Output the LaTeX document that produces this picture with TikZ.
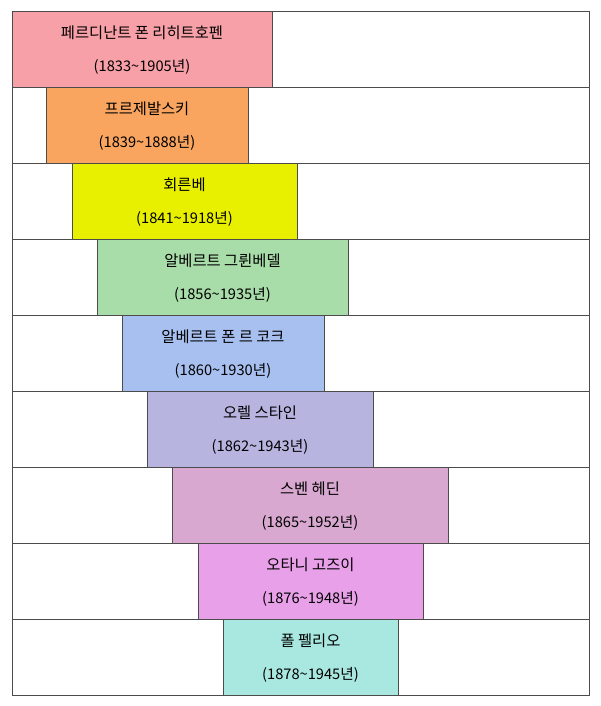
\documentclass[tikz,border=0pt]{standalone}
\usepackage{fontspec}
\setmainfont{Noto Sans CJK KR}
\begin{document}
\begin{tikzpicture}[x=0.75pt,y=-0.75pt,
  rowbox/.style={draw=black!70,line width=0.6pt},
  colbox/.style={draw=black!70,line width=0.6pt},
  nm/.style={font=\fontsize{11.5}{13}\selectfont,anchor=center},
  yr/.style={font=\fontsize{11}{13}\selectfont,anchor=center}]
\useasboundingbox[fill=white] (0,0) rectangle (600,706);
\definecolor{c1}{HTML}{F8A0A8}
\definecolor{c2}{HTML}{F9A560}
\definecolor{c3}{HTML}{E8F000}
\definecolor{c4}{HTML}{A8DCA8}
\definecolor{c5}{HTML}{A8C0F0}
\definecolor{c6}{HTML}{B8B4E0}
\definecolor{c7}{HTML}{D8A8D0}
\definecolor{c8}{HTML}{E8A0E8}
\definecolor{c9}{HTML}{A8E8E0}
\foreach \i/\xa/\xb/\c/\n/\y in {
 0/12/272/c1/페르디난트 폰 리히트호펜/(1833\textasciitilde1905년),
 1/46/248/c2/프르제발스키/(1839\textasciitilde1888년),
 2/72/297/c3/회른베/(1841\textasciitilde1918년),
 3/97/348/c4/알베르트 그륀베델/(1856\textasciitilde1935년),
 4/122/324/c5/알베르트 폰 르 코크/(1860\textasciitilde1930년),
 5/147/373/c6/오렐 스타인/(1862\textasciitilde1943년),
 6/172/448/c7/스벤 헤딘/(1865\textasciitilde1952년),
 7/198/423/c8/오타니 고즈이/(1876\textasciitilde1948년),
 8/223/398/c9/폴 펠리오/(1878\textasciitilde1945년)}{
  \pgfmathsetmacro\top{11+76*\i}
  \pgfmathsetmacro\bot{\top+76}
  \draw[rowbox] (12,\top) rectangle (589,\bot);
  \draw[colbox,fill=\c] (\xa,\top) rectangle (\xb,\bot);
  \node[nm] (n\i) at ({(\xa+\xb)/2},\top+22) {\n};
  \node[yr] (y\i) at ({(\xa+\xb)/2},\top+56) {\y};
}
\end{tikzpicture}
\end{document}
